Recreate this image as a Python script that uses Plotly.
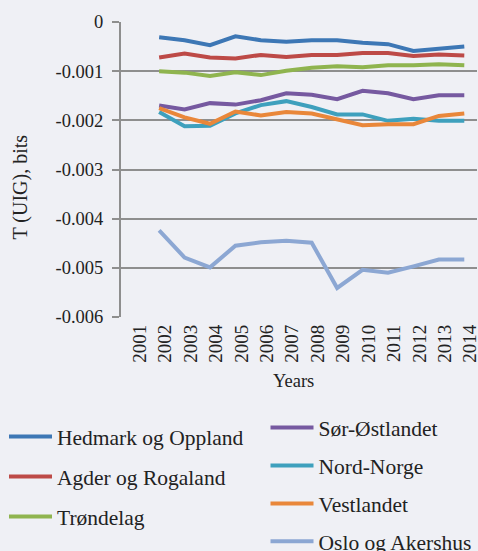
import plotly.graph_objects as go

# ---- data ----
years = list(range(2001, 2015))          # tick labels
x_years = list(range(2002, 2015))        # positions of the plotted values

hedmark = [-0.00031, -0.00037, -0.00047, -0.00029, -0.00037, -0.00040, -0.00037,
           -0.00037, -0.00042, -0.00045, -0.00059, -0.00055, -0.00050]
agder = [-0.00072, -0.00064, -0.00072, -0.00074, -0.00067, -0.00071, -0.00067,
         -0.00067, -0.00063, -0.00063, -0.00069, -0.00066, -0.00068]
trondelag = [-0.00100, -0.00103, -0.00110, -0.00102, -0.00108, -0.00099, -0.00093,
             -0.00090, -0.00092, -0.00088, -0.00088, -0.00086, -0.00088]
sor_ost = [-0.00170, -0.00178, -0.00165, -0.00168, -0.00159, -0.00145, -0.00148,
           -0.00157, -0.00140, -0.00145, -0.00157, -0.00149, -0.00149]
nord_norge = [-0.00183, -0.00212, -0.00211, -0.00186, -0.00169, -0.00161, -0.00173,
              -0.00188, -0.00188, -0.00201, -0.00197, -0.00201, -0.00201]
vestlandet = [-0.00175, -0.00194, -0.00207, -0.00182, -0.00190, -0.00183, -0.00186,
              -0.00199, -0.00210, -0.00208, -0.00208, -0.00191, -0.00186]
oslo = [-0.00424, -0.00479, -0.00499, -0.00455, -0.00448, -0.00445, -0.00449,
        -0.00541, -0.00504, -0.00510, -0.00497, -0.00483, -0.00483]

names = ["Hedmark og Oppland", "Agder og Rogaland", "Trøndelag",
         "Sør-Østlandet", "Nord-Norge", "Vestlandet", "Oslo og Akershus"]
values = [hedmark, agder, trondelag, sor_ost, nord_norge, vestlandet, oslo]
colors = ["#3D77B5", "#BD4A47", "#8FB44F", "#7659A0", "#3EA0BD", "#E9873A", "#8CA7D3"]
legend_ids = ["legend", "legend", "legend", "legend2", "legend2", "legend2", "legend2"]

y_ticks = [0, -0.001, -0.002, -0.003, -0.004, -0.005, -0.006]
y_ticktext = ["0", "-0.001", "-0.002", "-0.003", "-0.004", "-0.005", "-0.006"]

FONT = "Liberation Serif"
TXT = "#222222"
GRID = "#8E8E8E"
W, H = 478, 551
L, R, T, B = 121, 1, 22, 234
PW, PH = W - L - R, H - T - B

fig = go.Figure()
for n, v, c, lg in zip(names, values, colors, legend_ids):
    fig.add_trace(go.Scatter(x=x_years, y=v, name=n, mode="lines",
                             line=dict(color=c, width=4), legend=lg, legendgroup=n))

fig.update_layout(
    width=W, height=H,
    margin=dict(l=L, r=R, t=T, b=B, autoexpand=False),
    paper_bgcolor="#EFF0F5", plot_bgcolor="#EFF0F5",
    font=dict(family=FONT, color=TXT, size=19),
    xaxis=dict(range=[2000.5, 2014.5], tickvals=years, ticktext=[str(y) for y in years],
               tickangle=-90, showgrid=False, zeroline=False, showline=False, automargin=False,
               ticks="", ticklabelshift=6, ticklabelstandoff=3, ticklabeloverflow="allow",
               tickfont=dict(size=19, family=FONT, color=TXT)),
    yaxis=dict(range=[-0.006, 0], tickvals=y_ticks, ticktext=y_ticktext, automargin=False,
               showgrid=True, gridcolor=GRID, gridwidth=2, zeroline=False,
               showline=True, linecolor=GRID, linewidth=2,
               ticks="outside", ticklen=7, tickwidth=2, tickcolor=GRID, ticklabelstandoff=5,
               tickfont=dict(size=18.5, family=FONT, color=TXT)),
    legend=dict(xref="container", yref="container", x=4 / W, y=1 - 416 / H,
                xanchor="left", yanchor="top", bgcolor="rgba(0,0,0,0)", itemwidth=43,
                font=dict(size=21.5, family=FONT, color=TXT), tracegroupgap=9),
    legend2=dict(xref="container", yref="container", x=0.545 + 5 / W, y=1 - 407 / H,
                 xanchor="left", yanchor="top", bgcolor="rgba(0,0,0,0)", itemwidth=43,
                 font=dict(size=21.5, family=FONT, color=TXT), tracegroupgap=7),
    annotations=[
        dict(text="T (UIG), bits", xref="paper", yref="paper",
             x=(20 - L) / PW, y=(H - B - 186.5) / PH, xanchor="center", yanchor="middle",
             textangle=-90, showarrow=False, font=dict(size=20, family=FONT, color=TXT)),
        dict(text="Years", xref="paper", yref="paper",
             x=(293 - L) / PW, y=(H - B - 381) / PH, xanchor="center", yanchor="middle",
             showarrow=False, font=dict(size=18.5, family=FONT, color=TXT)),
    ],
)

fig.write_html("out.html", config={"displayModeBar": False},
               post_script="document.body.style.margin='0';")
